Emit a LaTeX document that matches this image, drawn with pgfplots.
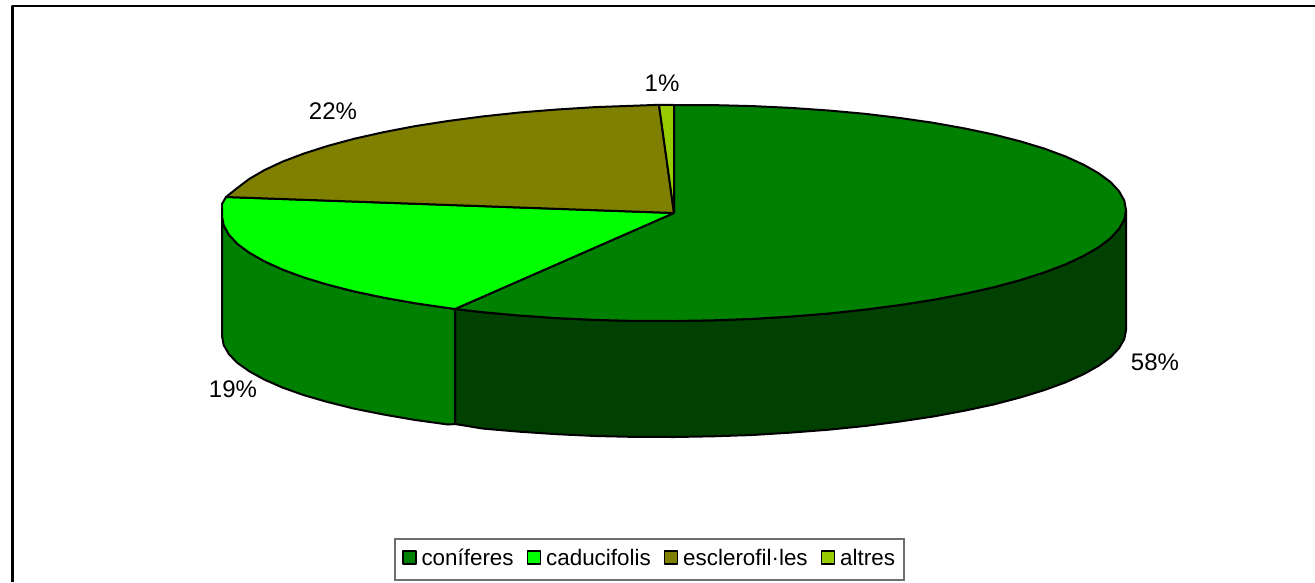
\documentclass[border=0pt]{standalone}
\usepackage{pgfplots}
\pgfplotsset{compat=1.18}
\usepackage{fontspec}
\setmainfont{Liberation Sans}
\definecolor{conif}{HTML}{008000}
\definecolor{conifd}{HTML}{004000}
\definecolor{caduc}{HTML}{00FF00}
\definecolor{escle}{HTML}{808000}
\definecolor{altres}{HTML}{99CC00}
\begin{document}
\begin{tikzpicture}
\path[use as bounding box] (0pt,0pt) rectangle (1315pt,582pt);
\begin{axis}[
  at={(0pt,0pt)}, anchor=south west,
  width=1315pt, height=582pt, scale only axis,
  xmin=0, xmax=1315, ymin=0, ymax=582, y dir=reverse,
  axis lines=none, clip=true, 
  legend columns=4,
  legend cell align=left,
  legend style={
    at={(axis cs:649.5,559.5)}, anchor=center,
    draw={rgb,255:red,110;green,110;blue,110}, line width=1.2pt,
    font=\fontsize{22.4}{26}\selectfont,
    nodes={text height=16pt, text depth=5pt},
    inner xsep=7pt, inner ysep=8pt,
    /tikz/every even column/.append style={column sep=11pt},
    /tikz/every odd column/.append style={column sep=3pt},
  },
  legend image code/.code={
    \draw[#1,draw=black,line width=1.5pt] (0pt,-4.5pt) rectangle (13pt,8.5pt);
  },
  every axis plot/.append style={draw=black, line width=2pt, line join=round, no markers, forget plot},
]
% side wall of coniferes
\addplot[fill=conifd] coordinates {
(1126,210)(1124.3,219.4)(1119.1,228.7)(1110.6,238.1)(1098.7,247.1)(1083.6,255.9)(1065.4,264.4)(1044.3,272.4)(1020.2,280.1)(993.6,287.3)(964.5,293.8)(933.3,299.8)(900,305)(865,309.6)(828.6,313.5)(791,316.5)(752.5,318.9)(713.4,320.3)(674,321)(634.6,320.9)(595.5,319.9)(557,318.1)(519.4,315.5)(483,312.2)(455,309)
(455,424)(483,428.6)(519.4,431.7)(557,434.2)(595.5,436)(634.6,436.9)(674,437)(713.4,436.3)(752.5,435)(791,432.6)(828.6,429.7)(865,426)(900,421.5)(933.3,416.5)(964.5,410.7)(993.6,404.5)(1020.2,397.5)(1044.3,390.1)(1065.4,382.4)(1083.6,374.2)(1098.7,365.7)(1110.6,357.1)(1119.1,348.1)(1124.3,339.1)(1126,330)(1126,210)};
% side wall of caducifolis
\addplot[fill=conif] coordinates {
(455,309)(448,308)(414.7,303.2)(383.5,297.6)(354.4,291.5)(327.8,284.7)(303.7,277.4)(282.6,269.6)(264.4,261.3)(249.3,252.7)(237.4,243.9)(228.9,234.7)(223.7,225.4)(222,216)(222,204)
(222,336)(223.7,345.1)(228.9,354.1)(237.4,362.9)(249.3,371.3)(264.4,379.6)(282.6,387.6)(303.7,395.1)(327.8,402.1)(354.4,408.7)(383.5,414.5)(414.7,419.9)(448,424.5)(455,424)(455,309)};
% top of coniferes
\addplot[fill=conif] coordinates {
(674,213)(674,105)(713.4,105.1)(752.5,106.1)(791,107.9)(828.6,110.5)(865,113.8)(900,118)(933.3,122.8)(964.5,128.4)(993.6,134.5)(1020.2,141.3)(1044.3,148.6)(1065.4,156.4)(1083.6,164.7)(1098.7,173.3)(1110.6,182.1)(1119.1,191.3)(1124.3,200.6)(1126,210)(1124.3,219.4)(1119.1,228.7)(1110.6,238.1)(1098.7,247.1)(1083.6,255.9)(1065.4,264.4)(1044.3,272.4)(1020.2,280.1)(993.6,287.3)(964.5,293.8)(933.3,299.8)(900,305)(865,309.6)(828.6,313.5)(791,316.5)(752.5,318.9)(713.4,320.3)(674,321)(634.6,320.9)(595.5,319.9)(557,318.1)(519.4,315.5)(483,312.2)(455,309)(674,213)};
% top of caducifolis
\addplot[fill=caduc] coordinates {
(674,213)(455,309)(448,308)(414.7,303.2)(383.5,297.6)(354.4,291.5)(327.8,284.7)(303.7,277.4)(282.6,269.6)(264.4,261.3)(249.3,252.7)(237.4,243.9)(228.9,234.7)(223.7,225.4)(222,216)(222,204)(226,197)(674,213)};
% top of esclerofil.les
\addplot[fill=escle] coordinates {
(674,213)(226,197)(237.4,187.9)(249.3,178.9)(264.4,170.1)(282.6,161.6)(303.7,153.6)(327.8,145.9)(354.4,138.7)(383.5,132.2)(414.7,126.2)(448,121)(483,116.4)(519.4,112.5)(557,109.5)(595.5,107.1)(634.6,105.7)(659,104.8)(674,213)};
% top of altres
\addplot[fill=altres] coordinates {
(674,213)(659,104.8)(674,105)(674,213)};
% outer frame
\addplot[draw=black, line width=2.5pt, line cap=butt] coordinates {(12.5,582)(12.5,6)(1315,6)};
% legend
\addlegendimage{fill=conif}\addlegendentry{coníferes}
\addlegendimage{fill=caduc}\addlegendentry{caducifolis}
\addlegendimage{fill=escle}\addlegendentry{esclerofil·les}
\addlegendimage{fill=altres}\addlegendentry{altres}
% data labels
\node[font=\fontsize{24}{26}\selectfont] at (axis cs:662,83) {1\%};
\node[font=\fontsize{24}{26}\selectfont] at (axis cs:333,111) {22\%};
\node[font=\fontsize{24}{26}\selectfont] at (axis cs:233,389) {19\%};
\node[font=\fontsize{24}{26}\selectfont] at (axis cs:1155,362) {58\%};
\end{axis}
\end{tikzpicture}
\end{document}
